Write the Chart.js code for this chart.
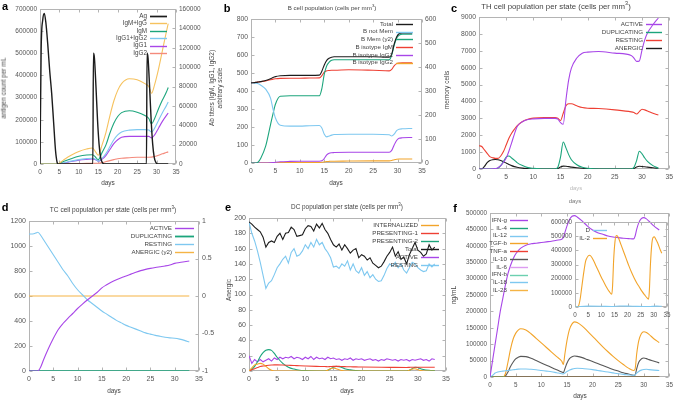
<!DOCTYPE html>
<html>
<head>
<meta charset="utf-8">
<script src="https://cdn.jsdelivr.net/npm/chart.js@4.4.1/dist/chart.umd.min.js"></script>
<style>
body { margin: 0; background: #fff; }
#fig { position: relative; width: 677px; height: 401px; overflow: hidden; background: #fff;
       font-family: "Liberation Sans", Arial, sans-serif; color: #444; }
#fig canvas { position: absolute; left: 0; top: 0; }
.t { position: absolute; white-space: nowrap; line-height: 1; transform: translate(-50%, -50%); }
.t.r { transform: translate(-50%, -50%) rotate(-90deg); }
.t.b { font-weight: bold; color: #000; }
</style>
</head>
<body>
<div id="fig"></div>
<script>
// ---- a: antigen / antibodies ----
const agX = [0, 0.3, 0.7, 1.1, 1.5, 2, 2.5, 3, 3.5, 4, 4.4, 4.7, 13.6, 13.75, 14, 14.4, 14.8, 15.2, 15.6, 16, 16.5, 27.4, 27.55, 27.8, 28.2, 28.6, 29, 29.4, 29.8, 30.3, 33];
const agCount = [0, 520000, 650000, 680000, 640000, 540000, 420000, 320000, 190000, 60000, 8000, 0, 0, 500000, 480000, 350000, 200000, 90000, 30000, 8000, 0, 0, 500000, 480000, 350000, 200000, 90000, 30000, 8000, 0, 0];
const abX = [0, 4.5, 6, 8, 10, 12, 13.5, 14.3, 15, 16, 17, 18, 19, 20, 21, 23, 25, 27, 28, 28.7, 29.5, 30.5, 31.5, 32.5, 33];
const igmIgg = [0, 0, 4000, 9000, 13000, 15500, 16500, 12500, 9000, 20000, 33000, 50000, 65000, 76000, 83000, 88000, 87000, 83000, 80000, 73000, 82000, 98000, 117000, 136000, 145000];
const igm = [0, 0, 2500, 5500, 8000, 9300, 9600, 7000, 4500, 12000, 20000, 32000, 42000, 49000, 53000, 55000, 53500, 50000, 47000, 41500, 47000, 57000, 66000, 74000, 79000];
const igg12 = [0, 0, 1000, 3000, 4500, 5500, 6000, 5000, 3000, 6000, 11000, 18000, 25000, 30000, 33000, 35000, 35500, 35500, 35000, 33000, 37000, 45000, 53000, 60000, 64000];
const igg1 = [0, 0, 800, 2500, 4000, 4800, 5200, 4500, 2800, 5000, 9000, 15000, 21000, 25000, 27500, 28500, 28500, 28500, 28500, 27000, 30000, 37000, 44000, 50000, 52500];
const igg2 = [0, 0, 50, 200, 400, 600, 800, 800, 700, 1500, 2500, 3500, 4500, 5500, 6000, 6500, 7000, 7000, 7000, 7100, 7800, 9000, 10500, 11800, 12500];

// ---- b: B cells ----
const bX = [0, 1, 1.5, 2, 3, 4, 4.5, 5, 6, 8, 10, 12, 14, 14.5, 15, 15.5, 16, 16.5, 17, 20, 25, 28.3, 28.8, 29.3, 29.8, 30.3, 31, 33];
const bTotal = [445, 448, 450, 452, 458, 468, 475, 480, 485, 487, 487, 487, 488, 510, 545, 570, 582, 588, 590, 590, 590, 588, 605, 660, 700, 718, 722, 722];
const bNotMem = [445, 443, 440, 432, 410, 360, 300, 250, 210, 205, 205, 207, 208, 195, 160, 145, 150, 155, 158, 160, 160, 157, 150, 160, 180, 188, 190, 192];
const bMem = [0, 0, 5, 20, 70, 160, 205, 245, 278, 280, 280, 280, 280, 310, 370, 405, 420, 428, 430, 430, 430, 430, 450, 490, 520, 532, 537, 537];
const bIgM = [445, 448, 450, 452, 456, 462, 466, 468, 470, 471, 471, 472, 473, 485, 505, 512, 514, 515, 515, 518, 515, 512, 520, 540, 552, 556, 557, 557];
const bIgG1 = [0, 0, 0, 0, 0, 1, 2, 4, 7, 9, 10, 10, 10, 12, 25, 45, 54, 57, 58, 60, 60, 60, 70, 100, 125, 137, 140, 142];
const bIgG2 = [0, 0, 0, 0, 0, 0, 0, 1, 2, 3, 3, 3, 3, 4, 6, 8, 9, 10, 10, 11, 12, 12, 14, 18, 21, 22, 22, 22];

// ---- c: TH cells ----
const cX = [0, 0.5, 1, 1.5, 2, 2.5, 3, 3.5, 4, 4.5, 5, 5.5, 6, 6.5, 7, 8, 9, 10, 12, 14, 14.5, 15, 15.5, 16, 16.5, 17, 18, 19, 20, 22, 25, 28, 28.5, 29, 29.5, 30, 30.5, 31, 32, 33];
const thActive = [0, 0, 0, 0, 0, 10, 30, 80, 200, 400, 650, 1050, 1550, 2050, 2500, 2800, 2930, 2970, 3000, 3000, 2950, 2750, 2650, 4100, 5280, 5970, 6570, 6860, 6920, 6960, 6860, 6720, 6570, 6370, 6400, 7060, 7650, 8050, 8540, 8940];
const thDup = [0, 0, 0, 0, 0, 0, 10, 60, 200, 435, 700, 770, 650, 530, 380, 200, 80, 40, 0, 0, 100, 700, 1600, 1250, 850, 550, 250, 100, 40, 0, 0, 0, 100, 500, 1050, 900, 650, 450, 200, 50];
const thResting = [1380, 1330, 1130, 930, 730, 670, 630, 630, 770, 1030, 1420, 1820, 2120, 2350, 2550, 2810, 2950, 3010, 3050, 3050, 3000, 2870, 3300, 3740, 3860, 3860, 3740, 3640, 3600, 3580, 3500, 3380, 3340, 3260, 3400, 3540, 3500, 3440, 3300, 3200];
const thAnergic = [0, 0, 150, 380, 500, 550, 560, 550, 500, 430, 350, 270, 200, 140, 100, 50, 20, 0, 0, 0, 30, 120, 170, 160, 140, 110, 70, 40, 20, 0, 0, 0, 30, 120, 160, 150, 130, 110, 70, 40];

// ---- d: TC cells ----
const dX = [0, 1, 1.5, 1.8, 2.5, 3, 4, 5, 6, 7, 8, 9, 10, 11, 12, 13, 14, 15, 16, 17, 18, 19, 20, 21, 22, 23, 24, 25, 26, 27, 28, 29, 30, 31, 32, 33];
const tcActive = [0, 0, 0, 0, 40, 90, 180, 260, 330, 380, 421, 460, 500, 535, 568, 598, 628, 665, 690, 712, 730, 746, 760, 775, 790, 803, 813, 821, 828, 834, 840, 848, 861, 868, 874, 880];
const tcResting = [1095, 1098, 1105, 1110, 1080, 1050, 990, 930, 870, 810, 760, 700, 650, 610, 570, 540, 510, 480, 455, 430, 405, 385, 365, 350, 335, 320, 305, 295, 285, 278, 270, 265, 262, 255, 245, 232];
const flatX = [0, 33];
const tcDup = [0, 0];
const tcAnergic = [0, 0];

// ---- e: DC ----
const eX = [0, 0.5, 1, 1.5, 2, 2.5, 3, 3.5, 4, 4.5, 5, 5.5, 6, 6.5, 7, 7.5, 8, 8.5, 9, 9.5, 10, 10.5, 11, 11.5, 12, 12.5, 13, 13.5, 14, 14.5, 15, 15.5, 16, 16.5, 17, 17.5, 18, 18.5, 19, 19.5, 20, 20.5, 21, 21.5, 22, 22.5, 23, 23.5, 24, 24.5, 25, 25.5, 26, 26.5, 27, 27.5, 28, 28.5, 29, 29.5, 30, 30.5, 31, 31.5, 32, 32.5, 33];
const dcTotal = [195, 192, 188, 185, 182, 175, 162, 168, 170, 168, 176, 180, 172, 180, 181, 188, 185, 176, 177, 178, 186, 190, 189, 183, 192, 187, 193, 185, 180, 172, 165, 162, 166, 158, 165, 160, 154, 158, 160, 148, 152, 150, 145, 148, 141, 138, 135, 137, 143, 150, 155, 162, 150, 156, 146, 149, 140, 152, 160, 168, 158, 155, 150, 153, 165, 158, 162];
const dcResting = [195, 180, 170, 157, 142, 125, 108, 115, 118, 126, 135, 140, 146, 150, 141, 155, 160, 150, 152, 157, 165, 160, 168, 162, 172, 165, 168, 160, 155, 148, 136, 137, 134, 140, 137, 144, 132, 140, 131, 128, 135, 125, 130, 122, 126, 120, 117, 118, 125, 134, 140, 137, 142, 135, 140, 132, 128, 135, 142, 140, 135, 132, 130, 131, 140, 136, 140];
const dcActive = [20, 10, 15, 12, 15, 12, 14, 16, 13, 17, 15, 18, 16, 18, 17, 19, 16, 18, 17, 15, 18, 16, 19, 15, 18, 16, 17, 15, 18, 16, 17, 15, 16, 14, 16, 15, 17, 14, 16, 15, 16, 14, 15, 16, 14, 15, 13, 15, 14, 16, 15, 14, 15, 13, 15, 14, 15, 13, 15, 14, 15, 16, 14, 15, 13, 16, 15];
const eSmX = [0, 0.5, 1, 1.5, 2, 2.5, 3, 3.5, 4, 4.5, 5, 6, 7, 8, 9, 10, 12, 13.5, 14, 14.5, 15, 15.5, 16, 16.5, 17, 18, 19, 20, 25, 28, 28.5, 29, 29.5, 30, 30.5, 31, 32, 33];
const dcInternal = [0, 4, 8, 9, 10, 9, 6, 3, 1, 0, 0, 0, 0, 0, 0, 0, 0, 0, 1, 3, 4, 3, 1.5, 0.5, 0, 0, 0, 0, 0, 0, 1, 2.5, 3, 1.5, 0.5, 0, 0, 0];
const dcPres1 = [0, 1.5, 3, 4.5, 6, 6.5, 7, 7.5, 7.8, 8, 8, 7.8, 7.5, 7.2, 6.8, 6.5, 6, 5.8, 5.6, 5.8, 6, 6, 6, 5.8, 5.7, 5.5, 5.4, 5.2, 4.8, 4.6, 4.8, 5, 5, 5, 5, 5, 5, 5];
const dcPres2 = [0, 2, 6, 12, 19, 24, 27, 28, 27, 23, 18, 10, 5, 2.5, 1, 0.5, 0, 0, 1, 3, 5, 6, 5.5, 4.5, 3, 1.5, 0.5, 0, 0, 0, 1, 3, 5, 4.5, 3, 2, 1, 0.5];

// ---- f: cytokines ----
const fX = [0, 0.5, 1, 1.5, 2, 2.5, 3, 3.5, 4, 4.5, 5, 5.5, 6, 7, 8, 9, 10, 11, 12, 13, 14, 14.3, 14.6, 15, 15.5, 16, 16.5, 17, 18, 19, 20, 21, 22, 23, 24, 25, 26, 27, 28, 28.3, 28.6, 29, 29.5, 30, 30.5, 31, 32, 33];
const ifng = [0, 50000, 100000, 150000, 200000, 240000, 280000, 315000, 340000, 360000, 375000, 385000, 393000, 402000, 406000, 408000, 410000, 412000, 414000, 417000, 420000, 425000, 440000, 460000, 480000, 490000, 492000, 488000, 475000, 460000, 448000, 440000, 435000, 430000, 427000, 425000, 423000, 422000, 421000, 430000, 450000, 470000, 483000, 486000, 482000, 475000, 460000, 448000];
const tgfb = [0, 0, 0, 0, 0, 0, 10000, 45000, 85000, 115000, 133000, 143000, 147000, 143000, 132000, 118000, 104000, 90000, 76000, 62000, 48000, 38000, 70000, 110000, 145000, 162000, 168000, 166000, 155000, 140000, 124000, 108000, 92000, 77000, 63000, 50000, 38000, 27000, 20000, 25000, 70000, 110000, 132000, 138000, 136000, 130000, 116000, 105000];
const il10 = [0, 0, 0, 0, 0, 0, 3000, 15000, 32000, 45000, 55000, 60000, 63000, 62000, 57000, 50000, 43000, 36000, 29000, 22000, 15000, 13000, 25000, 42000, 56000, 62000, 64000, 63000, 59000, 53000, 47000, 41000, 35000, 29000, 23000, 18000, 13000, 9000, 5000, 6000, 25000, 45000, 55000, 58000, 56000, 53000, 48000, 43000];
const il12 = [0, 5000, 12000, 15000, 17000, 18000, 19000, 20000, 21000, 22000, 23000, 24000, 24500, 24500, 23500, 22000, 20000, 18000, 16000, 13000, 10000, 9000, 12000, 17000, 21000, 24000, 26000, 26500, 26000, 24500, 22500, 20000, 17500, 15000, 12500, 10000, 8000, 6500, 5000, 7000, 12000, 17000, 21000, 23000, 23500, 22500, 21000, 20000];
const tnfa = [1000, 1000];
const cytoZero = [0, 0];
const insX = [0, 0.5, 1, 1.5, 2, 2.5, 3, 3.5, 4, 4.5, 5, 5.5, 6, 7, 8, 9, 10, 11, 12, 13, 14, 14.3, 14.7, 15.2, 15.7, 16.2, 16.7, 17.5, 18.5, 19.5, 20.5, 21.5, 22.5, 23.5, 24.5, 25.5, 26.5, 27.5, 28, 28.3, 28.7, 29.2, 29.7, 30.2, 30.7, 31.5, 32.5, 33];
const il2 = [0, 0, 2000, 15000, 60000, 130000, 200000, 265000, 320000, 345000, 360000, 365000, 360000, 330000, 290000, 250000, 210000, 175000, 140000, 110000, 90000, 150000, 330000, 460000, 505000, 500000, 480000, 440000, 390000, 340000, 290000, 245000, 205000, 170000, 140000, 110000, 85000, 62000, 55000, 120000, 300000, 440000, 490000, 495000, 480000, 450000, 400000, 380000];
const dInsX = [0, 2, 5, 10, 14, 17, 22, 28, 31, 33];
const dIns = [0, 4000, 6000, 5000, 3000, 7000, 5000, 3000, 6000, 5000];

const FONT = "'Liberation Sans', Arial, sans-serif";
const col = {
    black: "#1c1c1c", gold: "#f6c25e", green: "#1ca57c", sky: "#7ec8f0", violet: "#a846e8",
    salmon: "#f48a7c", red: "#ee4034", orange: "#f2a42a", grey: "#585858", lilac: "#dc9cf0",
    mint: "#6cd0b0", ltorange: "#f5b445"
};

const fig = document.getElementById("fig");

function pts(xs, ys) {
    return xs.map((x, i) => ({ x: x, y: ys[i] }));
}

function txt(s, x, y, size, cls, color) {
    const d = document.createElement("div");
    d.className = "t" + (cls ? " " + cls : "");
    d.style.left = x + "px";
    d.style.top = y + "px";
    d.style.fontSize = size + "px";
    if (color) d.style.color = color;
    d.innerHTML = s;
    fig.appendChild(d);
}

function ser(label, xs, ys, color, extra) {
    return Object.assign({
        label: label, data: pts(xs, ys), borderColor: color, backgroundColor: color,
        borderWidth: 1.1, pointRadius: 0, fill: false, cubicInterpolationMode: "monotone", yAxisID: "y"
    }, extra || {});
}

// gnuplot style frame with inward ticks on all sides
const frame = {
    id: "frame",
    beforeDatasetsDraw(chart) {
        const a = chart.chartArea, c = chart.ctx;
        const L = Math.round(a.left) + 0.5, R = Math.round(a.right) - 0.5;
        const T = Math.round(a.top) + 0.5, B = Math.round(a.bottom) - 0.5;
        c.save();
        c.strokeStyle = "#b4b4b4";
        c.lineWidth = 1;
        c.strokeRect(L, T, R - L, B - T);
        c.beginPath();
        const sx = chart.scales.x;
        sx.ticks.forEach(t => {
            const p = Math.round(sx.getPixelForValue(t.value)) + 0.5;
            c.moveTo(p, B); c.lineTo(p, B - 3);
            c.moveTo(p, T); c.lineTo(p, T + 3);
        });
        const sy = chart.scales.y, sr = chart.scales.y2 || sy;
        sy.ticks.forEach(t => {
            const p = Math.round(sy.getPixelForValue(t.value)) + 0.5;
            c.moveTo(L, p); c.lineTo(L + 3, p);
        });
        sr.ticks.forEach(t => {
            const p = Math.round(sr.getPixelForValue(t.value)) + 0.5;
            c.moveTo(R, p); c.lineTo(R - 3, p);
        });
        c.stroke();
        c.restore();
    }
};

// gnuplot style key: label right aligned, then line sample
const gleg = {
    id: "gleg",
    afterDatasetsDraw(chart, args, o) {
        if (!o || o.x == null) return;
        const c = chart.ctx;
        c.save();
        c.font = o.size + "px " + FONT;
        c.textAlign = "right";
        c.textBaseline = "middle";
        c.fillStyle = "#444";
        chart.data.datasets.forEach((ds, i) => {
            const y = o.y + i * o.dy;
            c.fillText(ds.label, o.x, y);
            c.strokeStyle = ds.borderColor;
            c.lineWidth = ds.borderWidth + 0.3;
            c.beginPath();
            c.moveTo(o.x + 3, Math.round(y) + 0.5);
            c.lineTo(o.x + 3 + o.len, Math.round(y) + 0.5);
            c.stroke();
        });
        c.restore();
    }
};

function axis(pos, min, max, step, size, w) {
    const horiz = pos === "bottom";
    return {
        type: "linear", position: pos, min: min, max: max,
        grid: { display: false, drawTicks: false },
        border: { display: false },
        ticks: {
            stepSize: step, autoSkip: false, maxRotation: 0, padding: horiz ? 4 : 3,
            color: "#555", font: { size: size, family: FONT },
            callback: v => String(v)
        },
        afterFit: s => {
            if (horiz) s.height = 14; else s.width = w;
        }
    };
}

function panel(area, datasets, sc, leg) {
    const cv = document.createElement("canvas");
    cv.width = 677;
    cv.height = 401;
    fig.appendChild(cv);
    // axis boxes wide enough that the labels are not clipped
    const yw = Math.min(area.l - 1, 45), y2w = sc.y2 ? 32 : 0, xh = 14;
    const scales = {
        x: axis("bottom", sc.x[0], sc.x[1], sc.x[2], sc.font),
        y: axis("left", sc.y[0], sc.y[1], sc.y[2], sc.font, yw)
    };
    if (sc.y2) scales.y2 = axis("right", sc.y2[0], sc.y2[1], sc.y2[2], sc.font, y2w);
    return new Chart(cv, {
        type: "line",
        data: { datasets: datasets },
        options: {
            responsive: false, animation: false, events: [],
            layout: {
                autoPadding: false,
                padding: { left: area.l - yw, top: area.t, right: 677 - area.r - y2w, bottom: 401 - area.b - xh }
            },
            plugins: { legend: { display: false }, tooltip: { enabled: false }, gleg: leg },
            scales: scales
        },
        plugins: [frame, gleg]
    });
}

// a
panel({ l: 40, t: 9, r: 176, b: 164 }, [
    ser("Ag", agX, agCount, col.black, { borderWidth: 1.4 }),
    ser("IgM+IgG", abX, igmIgg, col.gold, { yAxisID: "y2" }),
    ser("IgM", abX, igm, col.green, { yAxisID: "y2" }),
    ser("IgG1+IgG2", abX, igg12, col.sky, { yAxisID: "y2" }),
    ser("IgG1", abX, igg1, col.violet, { yAxisID: "y2" }),
    ser("IgG2", abX, igg2, col.salmon, { yAxisID: "y2" })
], { x: [0, 35, 5], y: [0, 700000, 100000], y2: [0, 160000, 20000], font: 6.5 },
   { x: 147, y: 16, dy: 7.4, len: 17, size: 6.3 });

// b
panel({ l: 251, t: 19, r: 422, b: 163 }, [
    ser("Total", bX, bTotal, col.black),
    ser("B not Mem", bX, bNotMem, col.sky),
    ser("B Mem (y2)", bX, bMem, col.green, { yAxisID: "y2" }),
    ser("B isotype IgM", bX, bIgM, col.red),
    ser("B isotype IgG1", bX, bIgG1, col.violet),
    ser("B isotype IgG2", bX, bIgG2, col.orange)
], { x: [0, 35, 5], y: [0, 800, 100], y2: [0, 600, 100], font: 6.8 },
   { x: 393, y: 24, dy: 7.7, len: 17, size: 6.2 });

// c
panel({ l: 479, t: 17, r: 672, b: 169 }, [
    ser("ACTIVE", cX, thActive, col.violet),
    ser("DUPLICATING", cX, thDup, col.green),
    ser("RESTING", cX, thResting, col.red),
    ser("ANERGIC", cX, thAnergic, col.black)
], { x: [0, 35, 5], y: [0, 9000, 1000], font: 6.8 },
   { x: 643, y: 24, dy: 8, len: 16, size: 6.2 });

// d
panel({ l: 29, t: 221, r: 199, b: 371 }, [
    ser("ACTIVE", dX, tcActive, col.violet),
    ser("DUPLICATING", flatX, tcDup, col.green, { borderWidth: 1.5 }),
    ser("RESTING", dX, tcResting, col.sky),
    ser("ANERGIC (y2)", flatX, tcAnergic, col.ltorange, { yAxisID: "y2" })
], { x: [0, 35, 5], y: [0, 1200, 200], y2: [-1, 1, 0.5], font: 7 },
   { x: 172, y: 228, dy: 8, len: 19, size: 6.2 });

// e
panel({ l: 249, t: 218, r: 446, b: 371 }, [
    ser("INTERNALIZED", eSmX, dcInternal, col.orange),
    ser("PRESENTING-1", eSmX, dcPres1, col.red),
    ser("PRESENTING-2", eSmX, dcPres2, col.green),
    ser("Total", eX, dcTotal, col.black, { cubicInterpolationMode: "default", tension: 0 }),
    ser("ACTIVE", eX, dcActive, col.violet, { cubicInterpolationMode: "default", tension: 0 }),
    ser("RESTING", eX, dcResting, col.sky, { cubicInterpolationMode: "default", tension: 0 })
], { x: [0, 35, 5], y: [0, 200, 20], font: 7 },
   { x: 418, y: 225, dy: 8, len: 18, size: 6.2 });

// f main
panel({ l: 490, t: 213, r: 671, b: 377 }, [
    ser("IFN-g", fX, ifng, col.violet),
    ser("IL-4", flatX, cytoZero, col.green),
    ser("IL-12", fX, il12, col.sky),
    ser("TGF-b", fX, tgfb, col.orange),
    ser("TNF-a", flatX, tnfa, col.red),
    ser("IL-10", fX, il10, col.grey),
    ser("IL-6", flatX, cytoZero, col.lilac),
    ser("IFN-b", flatX, cytoZero, col.mint),
    ser("IL-18", flatX, cytoZero, col.sky),
    ser("IL-23", flatX, cytoZero, col.ltorange)
], { x: [0, 35, 5], y: [0, 500000, 50000], font: 6.3 },
   { x: 507, y: 220, dy: 7.8, len: 18, size: 6.2 });

// f inset
panel({ l: 575, t: 222, r: 667, b: 307 }, [
    ser("D", dInsX, dIns, col.sky),
    ser("IL-2", insX, il2, col.orange)
], { x: [0, 35, 5], y: [0, 600000, 100000], font: 6.3 },
   { x: 590, y: 230, dy: 8, len: 14, size: 6.2 });

// panel letters
txt("a", 5, 6, 11, "b");
txt("b", 227, 8, 11, "b");
txt("c", 454, 8, 11, "b");
txt("d", 5, 207, 11, "b");
txt("e", 228, 207, 11, "b");
txt("f", 455, 208, 11, "b");

// titles and axis labels
txt("antigen count per mL", 4, 88, 6.5, "r");
txt("Ab titers (IgM, IgG1, IgG2)", 212, 88, 6.5, "r");
txt("arbitrary scale", 220, 88, 6.5, "r");
txt("days", 108, 183, 6.5);

txt("B cell population (cells per mm<sup style='font-size:70%'>3</sup>)", 332, 8, 6.2);
txt("memory cells", 447, 90, 6.5, "r");
txt("days", 336, 183, 6.5);

txt("TH cell population per state (cells per mm<sup style='font-size:70%'>3</sup>)", 556, 6, 7.8);
txt("days", 576, 188, 6, null, "#bbb");

txt("TC cell population per state (cells per mm<sup style='font-size:70%'>3</sup>)", 113, 210, 6.6);
txt("days", 114, 391, 6.5);

txt("DC population per state (cells per mm<sup style='font-size:70%'>3</sup>)", 347, 207, 6.4);
txt("Anergic", 229, 290, 6.5, "r");
txt("days", 347, 391, 6.5);

txt("days", 575, 201, 6, null, "#777");
txt("ng/mL", 454, 295, 6.5, "r");
txt("days", 580, 396, 6.5);
</script>
</body>
</html>
